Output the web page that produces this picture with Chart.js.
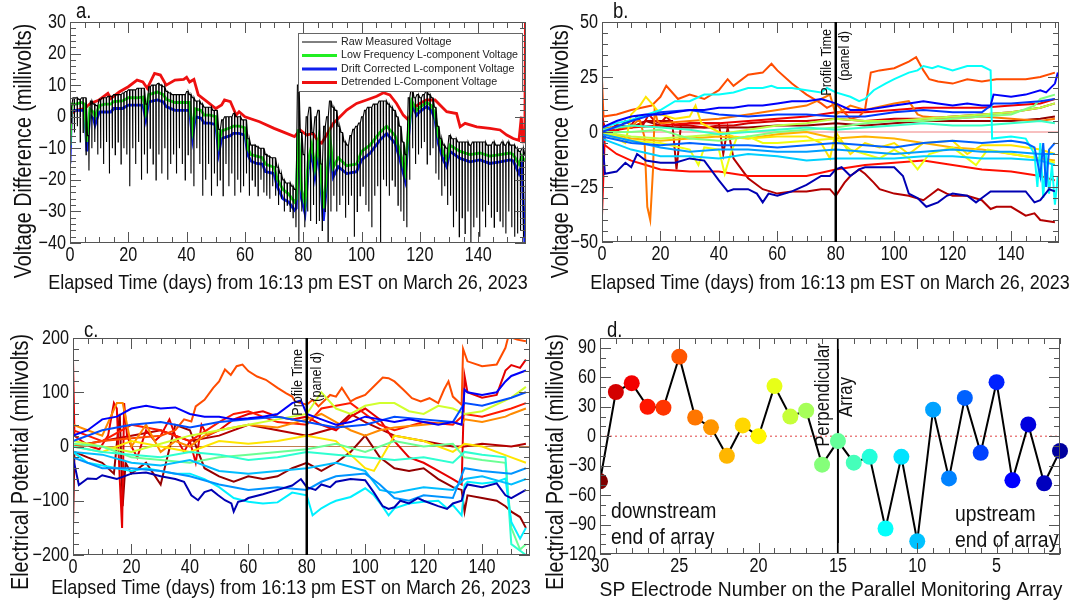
<!DOCTYPE html>
<html>
<head>
<meta charset="utf-8">
<script src="https://cdn.jsdelivr.net/npm/chart.js@4.4.0/dist/chart.umd.min.js"></script>
<style>
  body { margin: 0; background: #fff; width: 1089px; height: 606px; position: relative; overflow: hidden; }
  canvas { position: absolute; }
</style>
</head>
<body>
<canvas id="chartA" width="545" height="303" style="left:0;top:0"></canvas>
<canvas id="chartB" width="544" height="303" style="left:545px;top:0"></canvas>
<canvas id="chartC" width="545" height="303" style="left:0;top:303px"></canvas>
<canvas id="chartD" width="544" height="303" style="left:545px;top:303px"></canvas>
<script>
// ---------- data ----------
const timeTicks = [0, 20, 40, 60, 80, 100, 120, 140];
const aYTicks = [30, 20, 10, 0, -10, -20, -30, -40];
const bYTicks = [50, 25, 0, -25, -50];
const cYTicks = [200, 100, 0, -100, -200];
const dXTicks = [30, 25, 20, 15, 10, 5];
const dYTicks = [90, 60, 30, 0, -30, -60, -90, -120];
const profileDay = 80;

// panel a: raw voltage, one upper value and one daily dip per day (day 0..156)
const rawTop = [3,6,6,5.5,6,6,-6,5,4,3.5, 5.5,6,6,6.5,6.5,7,7,7,7.5,8, 8.5,8.5,8.5,9,9,9,4,9.5,10,10,
  10.5,10,9.5,8,7.5,7,7,7,7,7, 8,7,6,5,5,4,3,3,3,2, 2,-4,-1,0,0,0,1,0,0,-1,
  -1,-7,-9,-9,-9.5,-10,-10,-12,-12.5,-13, -13,-16,-18,-20,-21,-21,-22,-23,10,-5,
  -12,0,3,-5,0,2,-15,-3,0,5, 3,2,-3,-5,-8,-9,-6,-4,-3,-2, 0,2,3,3,4,4,5,5,5,4,
  3,2,0,-3,-8,-12,6,9,6,7, 6,7,8,7,6,3,-3,-7,-9,-10, -6,-7,-7,-8,-8,-8,-8,-9,-8,-8,
  -8,-8,-8,-9,-9,-8,-9,-9,-8,-9, -8,-9,-9,-10,-11,-10,-12];
const rawDip = [-2,-5,-3,-8,-5,-12,-17,-10,-8,-12, -10,-15,-8,-18,-10,-12,-8,-15,-10,-12,
  -22,-10,-15,-8,-20,-12,-18,-10,-15,-20, -12,-18,-10,-20,-15,-12,-18,-10,-15,-20,
  -12,-18,-22,-10,-15,-25,-20,-15,-25,-18, -22,-20,-25,-15,-22,-18,-25,-20,-24,-22,
  -18,-25,-20,-22,-25,-20,-24,-25,-26,-22, -25,-28,-26,-30,-28,-30,-32,-35,-40,-30,
  -35,-30,-33,-28,-34,-33,-36,-30,-40,-30, -25,-30,-28,-25,-32,-28,-25,-38,-30,-25,
  -22,-28,-30,-35,-25,-22,-40,-20,-22,-25, -20,-22,-28,-30,-33,-35,-20,-10,-15,-12,
  -10,-8,-15,-12,-10,-18,-20,-25,-22,-28, -25,-35,-30,-38,-32,-37,-30,-40,-35,-32,
  -38,-30,-35,-28,-32,-35,-30,-33,-35,-37, -30,-35,-38,-37,-36,-38,-40];

// panel a: low-frequency (green) and drift-corrected (blue) components
const aDays = [0,0.5,2,4,5,5.8,6.8,8,8.6,10,12,14,15,18,20,23,25,26,27,30,32,33,36,38,41,42,43,45,46,48,50,51,52,55,56,58,60,61,62,64,66,67,70,71,73,75,77,77.6,78.3,79.4,80.6,81.7,82.9,84,85.2,86.9,88,89.2,90.3,92,94.9,98.3,100,102.9,106.3,108.6,111.5,113.2,114.9,116,117.2,118.9,120,122.3,124,125.2,126.3,128,129.2,130.3,133.8,137.2,140.6,144,147.5,150.9,152,154,155,156];
const aGreen = [-9,4,4,4.5,4,-8,2.5,1.5,0,3.5,4,4,4.8,5,6,6,6.2,1.5,7,7.8,7,5.5,4.5,4.5,4.5,-4,2.5,2,0.5,0.5,0,-8.5,-4.5,-3.5,-3,-3,-3.5,-10,-12,-12.5,-13,-15,-16,-19.5,-23,-24.5,-27,-26,-4,-23,-27.5,-14,-9,-16,-8,-29,-19,-7,-16,-13,-15.5,-15,-11,-9,-5,-3,-6,-11,-17.5,-5,5,2,3,4.5,3.5,1,-6,-11.5,-13.5,-9,-11,-12,-11.5,-12.5,-12,-11.5,-12,-15,-12.5,-14];
const aBlue = [-14.8,1.9,2,2,2,-11,0.5,-0.5,-2.6,1.5,1.5,1.5,2.6,2.6,3.7,3.7,3.7,-1,4.7,5.3,4.7,3.2,2,2,2,-6.9,0,-0.5,-2,-2,-2.5,-11.6,-6.9,-6,-5.3,-5.3,-5.8,-12.1,-14,-14.8,-15,-17.4,-18,-22,-26,-27,-29.6,-29,-5.8,-26,-30.6,-16.9,-11.6,-19,-10.6,-33,-22,-9.5,-19,-15.8,-18,-17.4,-13.7,-11.6,-7.4,-5.3,-8.4,-13.7,-20,-7.4,4.2,0.5,1.6,3.2,2,-1,-8.4,-13.7,-15.8,-11,-13.2,-14.3,-13.7,-14.8,-14.3,-13.7,-14,-18,-15,-40];

// panel a: detrended component (red)
const aRedDays = [0,0.5,2,5,7,10,13,14,17,20,23,25,26.5,29,31,33,36,39,40,41,42.5,44,47,50,52,53,55,57,58,60,65,70,73,77,78.9,81.2,83.4,85.2,86.3,88,90.3,92.6,94.9,98.3,101.7,105.2,107.5,109.7,112,114.3,116,117.8,120,122.3,125.2,126.9,129.2,132.6,133.8,135.5,139.5,144,147.5,149.8,152,154,154.8,155.3,156,156.2];
const aRed = [-9,1,2,2.6,4.2,5.3,7.4,5.8,7.9,9.5,11.6,11,9,13.7,13.2,10,11.6,11.8,12.5,11,11.8,6.9,4.8,2.6,3.7,5.3,4.8,0.5,1.6,0,-1.6,-3.7,-4.8,-6.3,-4.2,-5.8,-5.3,-7.9,-8.4,-5.8,-2.1,0,2.1,4.2,5.3,6.5,7.6,6.9,4.2,0.5,-1,2.6,4.2,5.3,5.3,3.7,1.6,1,-3.2,-2.1,-3.2,-3.7,-4.2,-5.8,-6.9,-7.5,0,-8,-8,30];

// panel b: individual electrode voltage differences, [day, mV]
const bNavy = [[0,0],[1,-19],[5,-18],[8,-14],[10,-16],[12,-10],[15,-13],[20,-14],[25,-14],[30,-12],[35,-13],[40,-22],[43,-27],[45,-26],[50,-26],[53,-28],[55,-32],[57,-28],[60,-29],[65,-27],[70,-24],[75,-20],[78,-20],[80,-17],[82,-16],[85,-20],[88,-17],[90,-16],[93,-16],[97,-16],[100,-16],[103,-20],[105,-28],[108,-30],[111,-34],[115,-32],[118,-29],[120,-28],[125,-29],[128,-32],[130,-30],[133,-27],[140,-27],[145,-27],[148,-32],[150,-31],[153,-26],[155,-27]];
const bBlueUp = [[0,2],[5,5],[10,7],[15,8],[20,8],[25,9],[30,10],[35,10],[40,11],[45,11],[50,12],[55,12],[60,13],[65,14],[70,14],[75,15],[80,13],[85,10],[90,10],[95,11],[100,12],[105,13],[110,14],[115,13],[120,12],[125,13],[130,12],[133,12],[134,17],[140,16],[145,17],[150,19],[152,18],[155,22],[156,27]];
const bBlue2 = [[0,0],[10,5],[20,9],[30,10],[40,8],[50,7],[60,8],[70,8],[80,7],[90,7],[100,9],[110,10],[120,9],[130,9],[134,13],[140,13],[150,14],[155,15]];
const bBlue3 = [[0,-2],[10,-5],[20,-6],[30,-5],[40,-6],[50,-6],[60,-7],[70,-6],[80,-5],[90,-6],[100,-7],[110,-5],[120,-4],[130,-5],[140,-4],[145,-5],[148,-7],[150,-20],[151,-5],[152,-25],[153,-8],[155,-5]];
const bSky = [[0,-1],[10,-4],[20,-7],[30,-9],[40,-8],[50,-8],[60,-9],[70,-9],[80,-8],[90,-9],[100,-10],[110,-9],[120,-8],[130,-9],[140,-9],[150,-10],[155,-10]];
const bCyan2 = [[0,-3],[10,-8],[20,-11],[30,-11],[40,-12],[50,-10],[60,-11],[70,-13],[80,-12],[90,-12],[100,-12],[110,-11],[120,-11],[130,-12],[140,-12],[150,-13],[155,-15]];
const bCyan = [[0,2],[5,4],[10,5.5],[20,10],[25,14],[30,14],[35,17],[40,17],[45,18],[50,20],[55,20],[58,21],[60,20],[65,20],[70,19],[75,18],[77,20],[80,18],[85,16],[88,14],[90,15],[93,19],[97,22],[100,24],[105,27],[108,28],[110,30],[113,29],[115,30],[120,28],[125,30],[130,30],[133,28],[133.5,-3],[140,-2],[145,-3],[148,-10],[149,-25],[150,-5],[151,-30],[152,-10],[153,-28],[154,-15],[155,-33],[156,-20]];
const bTeal = [[0,1],[10,3],[20,2],[30,1],[40,-1],[50,0],[60,1],[70,2],[80,1],[90,2],[100,3],[110,4],[120,3],[130,3],[140,4],[150,5],[155,4]];
const bGreenA = [[0,0],[10,0],[20,1],[30,-3],[40,-4],[50,-2],[60,0],[70,1],[80,2],[90,4],[100,5],[110,5],[120,6],[130,7],[140,8],[148,12],[150,15],[155,17]];
const bGreenB = [[0,0],[10,-2],[20,-3],[30,-2],[40,-1],[50,1],[60,3],[70,4],[80,6],[90,5],[100,5],[110,6],[120,7],[130,8],[140,9],[150,11],[155,13]];
const bYellowB = [[0,0],[10,-4],[20,-5],[30,-8],[33,-15],[35,-7],[40,-8],[42,-19],[44,-10],[46,-3],[50,-2],[55,-5],[60,-5],[70,-4],[80,-3],[85,-8],[90,-10],[95,-12],[100,-8],[105,-12],[108,-17],[112,-10],[120,-7],[125,-12],[128,-15],[132,-8],[140,-10],[150,-12],[155,-14]];
const bYellowA = [[0,0],[5,-3],[8,-5],[10,8],[13,12],[15,16],[17,13],[20,8],[25,6],[30,7],[32,12],[34,4],[40,0],[45,-2],[50,-3],[60,-2],[70,-2],[75,-5],[78,-12],[80,0],[85,-10],[90,-5],[95,-7],[100,-5],[105,-10],[110,-5],[120,-4],[125,-10],[130,-6],[140,-6],[150,-8],[155,-10]];
const bGold = [[0,0],[10,-3],[20,-4],[30,-3],[40,-2],[50,-3],[60,-1],[70,0],[80,-3],[90,-2],[100,-3],[110,-5],[120,-7],[130,-8],[140,-10],[150,-12],[155,-13]];
const bOrangeDip = [[0,2],[5,2],[10,2],[12,5],[13,5],[14.5,-2],[15.5,-34],[16.5,-40],[17.5,-16],[18,10],[19,5],[20,4],[30,5],[40,6],[50,8],[60,10],[70,12],[75,15],[78,17],[80,8],[85,12],[90,10],[100,13],[105,14],[108,8],[110,7],[120,6],[130,7],[140,6],[150,5],[155,6]];
const bOrange = [[0,24],[0.5,7],[5,8],[10,10],[17,12],[20,16],[22,21],[26,15],[30,17],[35,15],[40,19],[43,24],[45,21],[50,26],[55,27],[58,31],[60,28],[65,22],[70,17],[75,13],[77,11],[80,13],[85,6],[88,7],[90,10],[92,27],[95,28],[100,29],[105,32],[107.5,34],[110,28],[112,24],[115,23],[120,22],[125,24],[130,23],[135,24],[140,24],[145,24],[150,25],[155,27]];
const bOrangeRed = [[0,-5],[5,-10],[10,-13],[15,-15],[20,-17],[30,-18],[40,-18],[50,-20],[60,-20],[70,-20],[80,-17],[90,-15],[100,-14],[110,-13],[120,-15],[130,-17],[140,-18],[150,-20],[155,-22]];
const bRedD = [[0,-38],[1,0],[10,2],[20,3],[30,4],[40,4],[50,5],[60,6],[70,7],[80,9],[90,9],[100,10],[110,11],[120,11],[130,11],[140,12],[150,13],[155,15]];
const bRedA = [[0,10],[1,-2],[3,2],[5,0],[8,5],[10,3],[12,7],[14,3],[16,8],[18,5],[20,4],[22,7],[25,3],[30,3],[35,2],[40,3],[45,3],[50,4],[60,5],[70,5],[80,6],[90,5],[100,6],[110,6],[120,7],[130,8],[140,9],[150,11],[155,13]];
const bRed1 = [[0,5],[0.5,0],[5,3],[10,2],[15,5],[20,5],[24,5],[25.5,-17],[27,3],[30,4],[35,4],[40,4],[41.5,-10],[43,2],[45,-12],[50,-21],[55,-26],[60,-28],[65,-27],[70,-27],[75,-26],[78,-26],[80,-29],[83,-23],[85,-20],[88,-17],[90,-19],[93,-23],[95,-26],[100,-28],[105,-29],[110,-31],[115,-26],[118,-28],[120,-29],[125,-29],[130,-31],[133,-35],[135,-34],[140,-34],[145,-38],[148,-37],[150,-40],[155,-41]];
const bRedB = [[0,5],[2,0],[5,3],[10,2],[15,5],[20,3],[25,2],[30,2],[40,2],[50,2],[60,3],[70,3],[80,4],[90,3],[100,4],[110,5],[120,5],[130,5],[140,5],[150,6],[155,7]];

// panel c: electrical potential per electrode, [day, mV]
const cNavy = [[0,-20],[2,-71],[5,-59],[8,-60],[10,-53],[15,-60],[20,-50],[25,-48],[30,-55],[35,-60],[38,-65],[40.5,-90],[42.8,-99],[45,-84],[47.4,-80],[49.7,-90],[52,-99],[54.2,-105],[55,-120],[56.5,-102],[58.8,-99],[60,-95],[65,-88],[70,-80],[75,-72],[78,-60],[80,-75],[83,-80],[85,-70],[88,-75],[90,-65],[95,-60],[100,-62],[103,-85],[106,-110],[108,-115],[110,-112],[112,-100],[115,-105],[118,-95],[120,-100],[125,-110],[128,-115],[130,-105],[133,-100],[134,-80],[135,-70],[140,-75],[145,-68],[148,-90],[150,-95],[155,-80]];
const cBlue = [[0,20],[5,30],[10,50],[15,55],[20,70],[25,75],[30,70],[35,72],[40,60],[45,55],[50,55],[55,50],[60,52],[65,55],[70,60],[75,80],[78,85],[80,60],[85,50],[90,40],[95,45],[100,55],[105,50],[110,45],[115,50],[120,45],[125,40],[130,45],[133,40],[134,105],[135,100],[140,95],[145,100],[148,120],[150,130],[155,140]];
const cBlue2 = [[0,10],[10,30],[20,40],[30,45],[40,35],[50,45],[60,50],[70,55],[80,45],[90,35],[100,40],[110,55],[120,50],[130,45],[134,80],[140,75],[150,90],[155,100]];
const cSky = [[0,-20],[10,-40],[20,-40],[30,-45],[40,-55],[50,-70],[60,-80],[70,-75],[80,-80],[85,-65],[90,-55],[100,-50],[105,-70],[110,-95],[115,-100],[120,-90],[130,-95],[134,-40],[140,-45],[150,-50],[155,-40]];
const cLight = [[0,-10],[10,-15],[20,-30],[30,-35],[40,-25],[50,-45],[60,-50],[70,-45],[80,-40],[90,-30],[100,-45],[105,-80],[110,-85],[120,-75],[130,-80],[134,-60],[140,-55],[150,-70],[155,-60]];
const cCyan = [[0,-10],[5,-30],[10,-35],[15,-40],[20,-45],[25,-40],[30,-45],[35,-50],[40,-50],[45,-60],[50,-75],[55,-95],[60,-102],[65,-105],[70,-103],[75,-85],[80,-90],[82,-127],[85,-114],[88,-105],[90,-100],[95,-93],[100,-77],[103,-90],[106,-111],[108,-127],[110,-114],[115,-105],[120,-102],[125,-100],[128,-114],[130,-108],[133,-127],[134,-71],[135,-65],[140,-68],[145,-65],[148,-59],[150,-139],[153,-170],[155,-150]];
const cTeal = [[0,0],[10,-10],[20,-15],[30,-20],[40,-10],[50,-15],[60,-25],[70,-20],[80,-10],[90,-15],[100,-20],[110,-25],[120,-20],[130,-30],[134,-10],[140,-15],[148,-20],[150,-180],[155,-200]];
const cGreen = [[0,5],[10,0],[20,-20],[30,-25],[40,-30],[50,-20],[60,-15],[70,-10],[80,-5],[90,5],[100,-10],[110,10],[120,0],[130,5],[134,-20],[140,-25],[148,-30],[150,-150],[153,-190],[155,-180]];
const cLime = [[0,10],[10,0],[20,-10],[30,5],[40,20],[50,30],[60,40],[70,50],[80,60],[85,100],[90,70],[95,60],[100,75],[105,80],[110,80],[115,65],[120,60],[125,75],[130,70],[134,60],[140,65],[150,90],[155,110]];
const cYellow = [[0,0],[10,-10],[20,10],[30,0],[40,-10],[50,10],[60,5],[70,10],[80,20],[90,10],[100,-40],[103,-45],[110,20],[120,10],[130,-10],[134,5],[140,0],[150,-20],[155,-30]];
const cOrange2 = [[0,40],[5,30],[10,20],[15,80],[17,80],[20,0],[25,40],[30,-10],[35,10],[40,0],[45,20],[50,30],[60,40],[70,35],[80,50],[85,60],[90,45],[95,30],[100,20],[105,30],[110,35],[120,40],[130,45],[133,40],[134,50],[140,45],[148,55],[150,60],[155,70]];
const cOrange = [[0,0],[10,10],[20,15],[30,20],[35,30],[38,50],[40.5,46],[42,74],[45,86],[48,108],[50,120],[52,142],[54,132],[56,148],[58,151],[60,139],[63,129],[66,123],[70,108],[73,98],[75,92],[76,83],[80,77],[82,86],[84,74],[88,95],[90,92],[92,108],[95,83],[97,89],[100,95],[103,111],[106,127],[108,126],[110,120],[113,105],[116,89],[119,83],[122,89],[125,80],[127,105],[128.5,120],[130,92],[133,77],[133.5,180],[135,157],[140,148],[145,151],[148,182],[149,203],[152,197],[155,194]];
const cOrangeRed = [[0,30],[5,20],[10,10],[20,40],[30,30],[40,10],[50,45],[55,60],[60,65],[70,45],[80,40],[85,70],[90,75],[95,80],[100,60],[105,40],[110,30],[120,45],[130,40],[134,60],[140,55],[150,70],[155,80]];
const cRed = [[0,160],[0.5,20],[3,10],[6,0],[9,-5],[12,20],[14,80],[15,70],[16,-60],[16.8,-150],[17.5,80],[18.5,20],[20,0],[22,-20],[25,30],[28,10],[30,20],[33,50],[35,20],[38,-10],[40,10],[42,-30],[44,40],[46,20],[50,30],[55,50],[60,60],[65,65],[70,55],[75,50],[80,55],[85,40],[90,30],[95,55],[100,70],[105,50],[110,10],[115,-20],[120,-30],[125,-45],[130,-60],[133,-70],[134,130],[135,100],[140,90],[145,95],[148,140],[150,150],[153,145],[155,160]];
const cDarkRed2 = [[0,0],[10,10],[20,20],[30,30],[40,10],[50,20],[60,40],[70,30],[80,20],[90,35],[95,60],[100,45],[110,20],[120,10],[130,0],[134,0],[140,5],[150,0],[155,5]];
const cDarkRed = [[0,-150],[0.5,-10],[5,-20],[10,-30],[14,-50],[16,60],[17,-110],[18,-30],[20,-50],[25,-30],[30,-70],[35,40],[40,30],[45,-40],[50,-55],[55,-65],[60,-55],[65,-60],[70,-55],[75,-40],[80,-30],[85,-45],[90,-30],[95,-10],[100,20],[105,-20],[110,-40],[115,-45],[120,-40],[125,-60],[130,-75],[133,-80],[134,-120],[135,-90],[140,-95],[145,-100],[148,-110],[150,-120],[153,-130],[155,-150]];

// panel d: profile along the parallel array at the profile time
const dElectrodes = [30,29,28,27,26,25,24,23,22,21,20,19,18,17,16,15,14,13,12,11,10,9,8,7,6,5,4,3,2,1];
const dPotential = [-46,45,54,30,29,81,19,9,-20,11,0,51,20,26,-29,-5,-27,-21,-94,-21,-107,27,-43,39,-17,55,-45,12,-48,-15];

// ---------- helpers ----------
const SANS = '"Liberation Sans", Arial, sans-serif';
Chart.defaults.font.family = SANS;
Chart.defaults.animation = false;

function jet(t) {
  const c = x => Math.round(255 * Math.max(0, Math.min(1, 1.5 - Math.abs(x))));
  return 'rgb(' + c(4 * t - 3) + ',' + c(4 * t - 2) + ',' + c(4 * t - 1) + ')';
}
function electrodeColor(e) { return e === 30 ? jet(1) : jet(0.03 + 0.92 * (e - 1) / 29); }
function minus(v) { return v < 0 ? '\u2212' + Math.abs(v) : String(v); }
function pts(pairs) { return pairs.map(p => ({ x: p[0], y: p[1] })); }
function line(pairs, color, width) {
  return { data: pts(pairs), borderColor: color, borderWidth: width, pointRadius: 0, tension: 0, fill: false };
}

// narrow text: Liberation Sans squeezed horizontally like the condensed original
function text(ctx, str, x, y, opt) {
  ctx.save();
  ctx.font = opt.size + 'px ' + SANS;
  ctx.fillStyle = opt.color || '#111';
  ctx.textAlign = opt.align || 'center';
  ctx.textBaseline = opt.baseline || 'middle';
  ctx.translate(x, y);
  if (opt.rot) ctx.rotate(-Math.PI / 2);
  ctx.scale(opt.sx || 0.84, 1);
  ctx.fillText(str, 0, 0);
  ctx.restore();
}

// ROOT-style frame with inward ticks on all four sides
function drawFrame(chart, spec) {
  const { ctx, chartArea: a } = chart;
  const xs = chart.scales.x, ys = chart.scales.y;
  ctx.save();
  ctx.strokeStyle = '#555';
  ctx.lineWidth = 1;
  ctx.beginPath();
  const lo = Math.min(xs.min, xs.max), hi = Math.max(xs.min, xs.max);
  for (let k = Math.ceil(lo / spec.xMinor); k * spec.xMinor <= hi; k++) {
    const v = k * spec.xMinor;
    const p = Math.round(xs.getPixelForValue(v)) + 0.5;
    const len = (Math.abs(v % spec.xMajor) < 1e-6) ? 11 : 6;
    ctx.moveTo(p, a.bottom); ctx.lineTo(p, a.bottom - len);
    ctx.moveTo(p, a.top); ctx.lineTo(p, a.top + len);
  }
  for (let k = Math.ceil(ys.min / spec.yMinor); k * spec.yMinor <= ys.max; k++) {
    const v = k * spec.yMinor;
    const p = Math.round(ys.getPixelForValue(v)) + 0.5;
    const len = (Math.abs(v % spec.yMajor) < 1e-6) ? 11 : 6;
    ctx.moveTo(a.left, p); ctx.lineTo(a.left + len, p);
    ctx.moveTo(a.right, p); ctx.lineTo(a.right - len, p);
  }
  ctx.stroke();
  ctx.strokeRect(Math.round(a.left) + 0.5, Math.round(a.top) + 0.5, Math.round(a.width) - 1, Math.round(a.height) - 1);
  ctx.restore();
  // tick labels from the scales
  const tl = { size: 20, sx: 0.81 };
  spec.xLabels.forEach(v => text(ctx, minus(v), xs.getPixelForValue(v), a.bottom + 12, tl));
  spec.yLabels.forEach(v => text(ctx, minus(v), a.left - 4, ys.getPixelForValue(v), Object.assign({ align: 'right' }, tl)));
}

function hLine(chart, v, color, width, dash) {
  const { ctx, chartArea: a } = chart;
  const p = chart.scales.y.getPixelForValue(v);
  ctx.save();
  ctx.strokeStyle = color; ctx.lineWidth = width;
  if (dash) ctx.setLineDash(dash);
  ctx.beginPath(); ctx.moveTo(a.left, p); ctx.lineTo(a.right, p); ctx.stroke();
  ctx.restore();
}
function vLine(chart, v, color, width) {
  const { ctx, chartArea: a } = chart;
  const p = chart.scales.x.getPixelForValue(v);
  ctx.save();
  ctx.strokeStyle = color; ctx.lineWidth = width;
  ctx.beginPath(); ctx.moveTo(p, a.top); ctx.lineTo(p, a.bottom); ctx.stroke();
  ctx.restore();
  return p;
}

// chart options for a fixed plot box
function makeOptions(box, xCfg, yCfg) {
  return {
    responsive: false,
    animation: false,
    layout: { padding: { left: 0, top: box.top, right: box.w - box.right, bottom: 0 } },
    plugins: { legend: { display: false }, tooltip: { enabled: false } },
    scales: {
      x: Object.assign({
        type: 'linear',
        grid: { display: false, drawTicks: false },
        border: { display: false },
        ticks: { display: false },
        afterFit: s => { s.height = box.h - box.bottom; }
      }, xCfg),
      y: Object.assign({
        type: 'linear',
        grid: { display: false, drawTicks: false },
        border: { display: false },
        ticks: { display: false },
        afterFit: s => { s.width = box.left; }
      }, yCfg)
    }
  };
}

const timeX = { min: 0, max: 156.4 };
const xTitle = 'Elapsed Time (days) from 16:13 pm EST on March 26, 2023';
const XT = { size: 21, sx: 0.855 };
const YT = { size: 23, sx: 0.86, rot: true };

// ---------- panel a ----------
const rawPts = [];
rawTop.forEach((top, d) => {
  rawPts.push({ x: d, y: top }, { x: d + 0.42, y: top }, { x: d + 0.5, y: rawDip[d] }, { x: d + 0.58, y: top });
});
const legendA = [
  ['Raw Measured Voltage', '#000', 1],
  ['Low Frequency L-component Voltage', '#22ee22', 3],
  ['Drift Corrected L-component Voltage', '#1020ee', 3],
  ['Detrended L-Component Voltage', '#ee1010', 3]
];
new Chart(document.getElementById('chartA'), {
  type: 'line',
  data: {
    datasets: [
      { data: rawPts, borderColor: '#000', borderWidth: 1.1, pointRadius: 0, tension: 0 },
      line(aDays.map((d, i) => [d, aGreen[i]]), '#22ee22', 2.8),
      line(aDays.map((d, i) => [d, aBlue[i]]), '#1020ee', 2.8),
      line(aRedDays.map((d, i) => [d, aRed[i]]), '#ee1010', 2.8)
    ]
  },
  options: makeOptions({ w: 545, h: 303, left: 70, top: 22, right: 526, bottom: 243 }, timeX, { min: -40, max: 30 }),
  plugins: [{
    id: 'panelA',
    afterDatasetsDraw(chart) {
      drawFrame(chart, { xMajor: 20, xMinor: 5, yMajor: 10, yMinor: 2, xLabels: timeTicks, yLabels: aYTicks });
      const ctx = chart.ctx;
      ctx.save();
      ctx.fillStyle = '#fff'; ctx.strokeStyle = '#666'; ctx.lineWidth = 1;
      ctx.fillRect(298, 33, 224, 58); ctx.strokeRect(298.5, 33.5, 224, 58);
      legendA.forEach((it, i) => {
        const y = 42 + i * 13.5;
        ctx.strokeStyle = it[1]; ctx.lineWidth = it[2];
        ctx.beginPath(); ctx.moveTo(302, y); ctx.lineTo(337, y); ctx.stroke();
        text(ctx, it[0], 341, y, { size: 10.7, sx: 1, align: 'left', color: '#222' });
      });
      ctx.restore();
    },
    afterDraw(chart) {
      const ctx = chart.ctx;
      text(ctx, 'a.', 76, 12, { size: 22, align: 'left' });
      text(ctx, xTitle, 288, 283, XT);
      text(ctx, 'Voltage Difference (millivolts)', 25, 151, YT);
    }
  }]
});

// ---------- panel b ----------
const bLines = [
  [bNavy, 0.05], [bBlueUp, 0.12], [bBlue2, 0.18], [bBlue3, 0.22], [bSky, 0.28], [bCyan2, 0.33],
  [bCyan, 0.38], [bTeal, 0.43], [bGreenA, 0.5], [bGreenB, 0.56], [bYellowB, 0.61], [bYellowA, 0.65],
  [bGold, 0.7], [bOrangeDip, 0.76], [bOrange, 0.8], [bOrangeRed, 0.86], [bRedD, 0.89], [bRedA, 0.92],
  [bRed1, 0.95], [bRedB, 0.98]
];
new Chart(document.getElementById('chartB'), {
  type: 'line',
  data: { datasets: bLines.map(l => line(l[0], jet(l[1]), 2)) },
  options: makeOptions({ w: 544, h: 303, left: 57, top: 22, right: 514, bottom: 242 }, timeX, { min: -50, max: 50 }),
  plugins: [{
    id: 'panelB',
    beforeDatasetsDraw(chart) { hLine(chart, 0, '#f08080', 1); },
    afterDatasetsDraw(chart) {
      drawFrame(chart, { xMajor: 20, xMinor: 5, yMajor: 25, yMinor: 5, xLabels: timeTicks, yLabels: bYTicks });
      const p = vLine(chart, profileDay, '#000', 2.5);
      const ctx = chart.ctx;
      text(ctx, 'Profile Time', p - 9, 29, { size: 15, rot: true, align: 'right' });
      text(ctx, '(panel d)', p + 9, 31, { size: 15, rot: true, align: 'right' });
    },
    afterDraw(chart) {
      const ctx = chart.ctx;
      text(ctx, 'b.', 68, 12, { size: 22, align: 'left' });
      text(ctx, xTitle, 285, 283, XT);
      text(ctx, 'Voltage Difference (millivolts)', 17, 151, YT);
    }
  }]
});

// ---------- panel c ----------
const cLines = [
  [cNavy, 0.05], [cBlue, 0.12], [cBlue2, 0.2], [cSky, 0.27], [cLight, 0.31], [cCyan, 0.36],
  [cTeal, 0.42], [cGreen, 0.48], [cLime, 0.58], [cYellow, 0.65], [cOrange2, 0.74], [cOrange, 0.8],
  [cOrangeRed, 0.85], [cRed, 0.9], [cDarkRed2, 0.95], [cDarkRed, 0.98]
];
new Chart(document.getElementById('chartC'), {
  type: 'line',
  data: { datasets: cLines.map(l => line(l[0], jet(l[1]), 2)) },
  options: makeOptions({ w: 545, h: 303, left: 73, top: 35, right: 530, bottom: 252 }, timeX, { min: -200, max: 200 }),
  plugins: [{
    id: 'panelC',
    beforeDatasetsDraw(chart) { hLine(chart, 0, '#c08050', 1); },
    afterDatasetsDraw(chart) {
      drawFrame(chart, { xMajor: 20, xMinor: 5, yMajor: 100, yMinor: 20, xLabels: timeTicks, yLabels: cYTicks });
      const p = vLine(chart, profileDay, '#000', 2.5);
      const ctx = chart.ctx;
      text(ctx, 'Profile Time', p - 9, 46, { size: 15, rot: true, align: 'right' });
      text(ctx, '(panel d)', p + 10, 49, { size: 15, rot: true, align: 'right' });
    },
    afterDraw(chart) {
      const ctx = chart.ctx;
      text(ctx, 'c.', 84, 28, { size: 22, align: 'left' });
      text(ctx, xTitle, 291, 285, XT);
      text(ctx, 'Electrical Potential (millivolts)', 22, 159, YT);
    }
  }]
});

// ---------- panel d ----------
new Chart(document.getElementById('chartD'), {
  type: 'line',
  data: {
    datasets: [{
      data: dElectrodes.map((e, i) => ({ x: e, y: dPotential[i] })),
      borderColor: '#000', borderWidth: 2, tension: 0,
      pointRadius: 8, pointBorderWidth: 0,
      pointBackgroundColor: dElectrodes.map(electrodeColor),
      clip: { left: 0, top: 10, right: 10, bottom: 10 }
    }]
  },
  options: makeOptions({ w: 544, h: 303, left: 55, top: 35, right: 515, bottom: 251 },
    { min: 1, max: 30, reverse: true }, { min: -120, max: 100 }),
  plugins: [{
    id: 'panelD',
    beforeDatasetsDraw(chart) {
      hLine(chart, 0, '#e04040', 1, [2, 3]);
      const p = vLine(chart, 15, '#000', 2);
      const ctx = chart.ctx;
      text(ctx, 'Perpendicular', p - 14, 92, { size: 20, rot: true });
      text(ctx, 'Array', p + 9, 94, { size: 20, rot: true });
      const f = { size: 22, sx: 0.88, align: 'left' };
      text(ctx, 'downstream', 66, 209, f);
      text(ctx, 'end of array', 66, 235, f);
      text(ctx, 'upstream', 410, 212, f);
      text(ctx, 'end of array', 410, 238, f);
    },
    afterDatasetsDraw(chart) {
      drawFrame(chart, { xMajor: 5, xMinor: 1, yMajor: 30, yMinor: 10, xLabels: dXTicks, yLabels: dYTicks });
    },
    afterDraw(chart) {
      const ctx = chart.ctx;
      text(ctx, 'd.', 62, 28, { size: 22, align: 'left' });
      text(ctx, 'SP Electrode Number on the Parallel Monitoring Array', 286, 287, { size: 21, sx: 0.92 });
      text(ctx, 'Electrical Potential (millivolts)', 12, 159, YT);
    }
  }]
});
</script>
</body>
</html>
